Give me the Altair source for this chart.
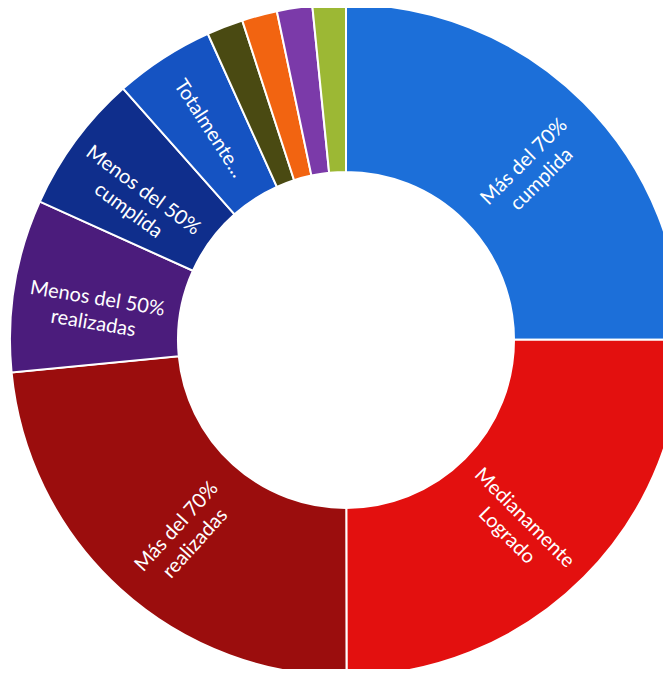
import altair as alt
import pandas as pd

categories = [
    "Más del 70% cumplida", "Medianamente Logrado", "Más del 70% realizadas",
    "Menos del 50% realizadas", "Menos del 50% cumplida", "Totalmente...",
    "Otro 1", "Otro 2", "Otro 3", "Otro 4",
]
labels = [
    "Más del 70%\ncumplida", "Medianamente\nLogrado", "Más del 70%\nrealizadas",
    "Menos del 50%\nrealizadas", "Menos del 50%\ncumplida", "Totalmente...",
    "", "", "", "",
]
values = [25.0, 25.0, 23.5, 8.3, 6.7, 4.8, 1.75, 1.7, 1.7, 1.6]
colors = [
    "#1c6fd9", "#e3100f", "#9b0d0d", "#4b1c7c", "#0f2e8c", "#1553c2",
    "#4a4a12", "#f26411", "#7b3aa9", "#9cb834",
]

df = pd.DataFrame({"cat": categories, "label": labels, "value": values})
df["idx"] = range(len(df))
total = df["value"].sum()
mid = (df["value"].cumsum() - df["value"] / 2) / total * 360
df["rot"] = [((m - 90) if m < 180 else (m - 270)) % 360 for m in mid]

cx, cy = 338, 332

base = alt.Chart(df).encode(
    theta=alt.Theta("value:Q", stack=True),
    order=alt.Order("idx:Q"),
    x=alt.value(cx),
    y=alt.value(cy),
)

arcs = base.mark_arc(innerRadius=168, outerRadius=336, stroke="white", strokeWidth=2).encode(
    color=alt.Color("cat:N", scale=alt.Scale(domain=categories, range=colors), legend=None)
)

text = base.mark_text(
    radius=252, font="Lato", fontSize=20, color="white", lineBreak="\n",
    lineHeight=25, align="center", baseline="middle",
).encode(
    text="label:N",
    angle=alt.Angle("rot:Q", scale=None),
)

chart = (arcs + text).properties(
    width=655, height=661, padding=0,
    autosize=alt.AutoSizeParams(type="none"),
).configure_view(stroke=None)
chart.save("out.html", embed_options={"renderer": "svg", "actions": False})
